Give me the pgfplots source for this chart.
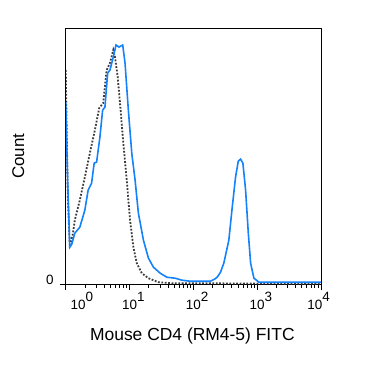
\documentclass[border=0pt]{standalone}
\usepackage{pgfplots}
\pgfplotsset{compat=1.18}
\usepackage{fontspec}
\setmainfont{Liberation Sans}
\definecolor{cblue}{RGB}{20,130,250}
\definecolor{cgray}{RGB}{60,60,60}
\newcommand{\tl}[1]{10\rlap{\raisebox{7.8bp}{#1}}}
\begin{document}
\begin{tikzpicture}
\begin{axis}[
  scale only axis, width=255bp, height=256bp,
  xmode=log, xmin=1, xmax=10000, ymin=0, ymax=256,
  axis line style={black, line width=0.9bp},
  xtick={1,10,100,1000,10000},
  xticklabels={{\hspace*{24.6bp}\tl{0}},{\tl{1}},{\tl{2}},{\tl{3}},{\tl{4}\hspace*{12bp}}},
  ytick={0}, yticklabels={0},
  xtick pos=left, ytick pos=left,
  tick align=outside,
  major tick length=6bp, minor tick length=3.5bp,
  tick style={black, line width=0.8bp},
  xticklabel style={font=\fontsize{13.5}{15}\selectfont, anchor=base, inner sep=0pt, yshift=-19.3bp},
  yticklabel style={font=\fontsize{13.5}{15}\selectfont, anchor=base east, inner sep=0pt, xshift=-6bp},
  xlabel={Mouse CD4 (RM4-5) FITC}, ylabel={Count},
  xlabel style={font=\fontsize{17.5}{19}\selectfont, at={(axis description cs:0.5,0)}, anchor=base, inner sep=0pt, yshift=-56bp, xshift=-1bp},
  ylabel style={font=\fontsize{17}{19}\selectfont, at={(axis description cs:0,0.5)}, anchor=center, inner sep=0pt, yshift=47.5bp},
  clip=true,
]
\addplot[cgray, line width=1.8bp, dash pattern=on 1.8bp off 1.6bp] coordinates {
(1.000,214) (1.037,150) (1.075,90) (1.156,38) (1.289,50) (1.386,64) (1.662,84) (1.991,107) (2.388,131) (2.862,154) (3.345,176) (3.867,181) (4.374,214) (4.931,221) (5.558,234) (5.913,227) (6.520,207) (7.087,181) (7.986,141) (9.035,104) (10.18,64) (11.48,37) (12.99,21) (15.57,11) (19.78,6) (28.41,2) (46.19,1) (10000,0.5)
};
\addplot[cblue, line width=1.6bp] coordinates {
(1.000,182) (1.037,140) (1.075,100) (1.156,37) (1.243,40) (1.386,51) (1.662,57) (1.991,74) (2.244,94) (2.540,101) (2.791,121) (3.044,122) (3.431,147) (3.784,174) (4.114,177) (4.536,211) (4.931,214) (5.558,227) (6.131,239) (6.833,237) (7.814,239) (8.494,221) (9.574,174) (10.83,131) (12.21,104) (13.76,71) (16.50,44) (19.78,26) (23.71,17) (30.22,11) (38.53,7) (52.07,6) (66.37,4) (89.72,3) (185.2,3) (214.1,5) (236.1,7) (266.2,12) (300.1,21) (359.7,44) (406.9,77) (458.6,107) (505.8,123) (549.8,125) (597.6,121) (659.1,94) (726.8,51) (790.0,21) (890.4,6) (1067,2) (10000,2)
};
\end{axis}
\path (current axis.south west) ++(-65.7bp,-81bp);
\path (current axis.north east) ++(54bp,28bp);
\end{tikzpicture}
\end{document}
